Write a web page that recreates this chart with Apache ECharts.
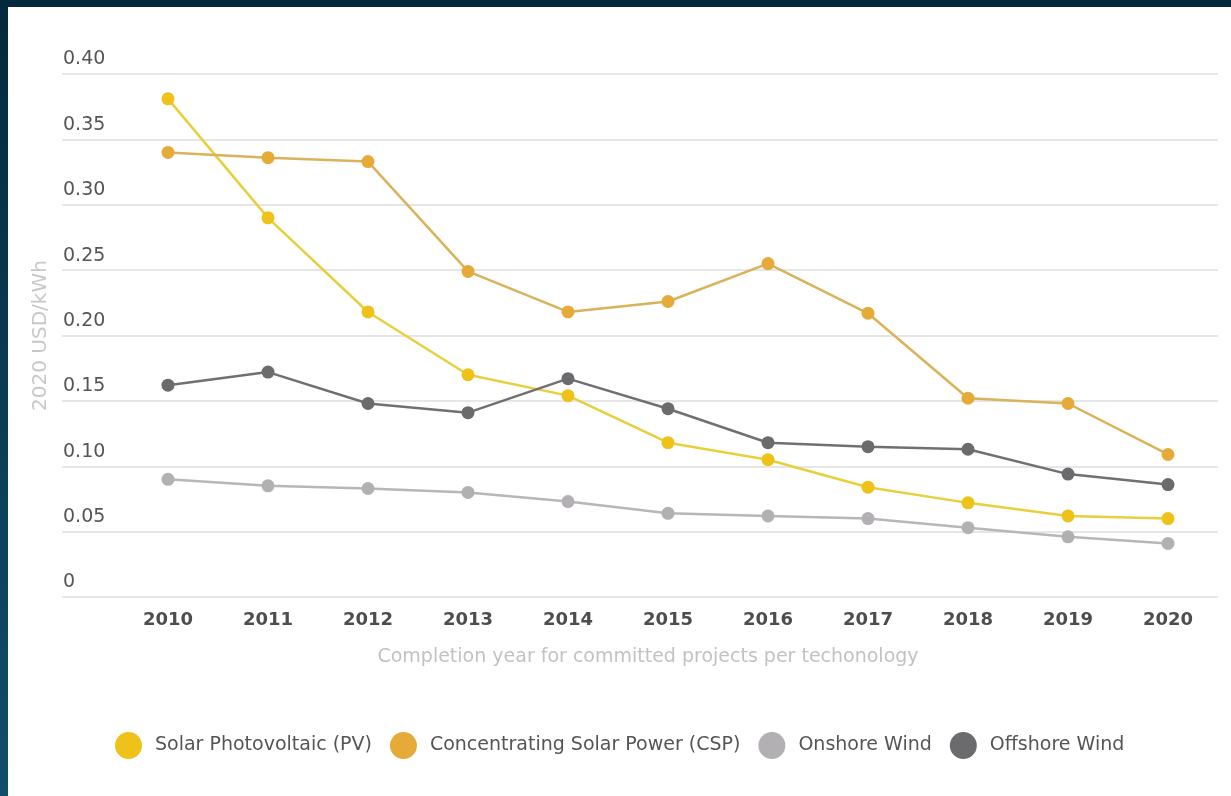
<!DOCTYPE html>
<html>
<head>
<meta charset="utf-8">
<script src="https://cdn.jsdelivr.net/npm/echarts@6/dist/echarts.min.js"></script>
<style>
  html, body { margin: 0; padding: 0; }
  #chart { width: 1231px; height: 796px; }
</style>
</head>
<body>
<div id="chart"></div>
<script>
// Datos
const years = ['2010', '2011', '2012', '2013', '2014', '2015', '2016', '2017', '2018', '2019', '2020'];
const solarPV = [0.381, 0.290, 0.218, 0.170, 0.154, 0.118, 0.105, 0.084, 0.072, 0.062, 0.060];
const csp = [0.340, 0.336, 0.333, 0.249, 0.218, 0.226, 0.255, 0.217, 0.152, 0.148, 0.109];
const onshoreWind = [0.090, 0.085, 0.083, 0.080, 0.073, 0.064, 0.062, 0.060, 0.053, 0.046, 0.041];
const offshoreWind = [0.162, 0.172, 0.148, 0.141, 0.167, 0.144, 0.118, 0.115, 0.113, 0.094, 0.086];
const seriesNames = ['Solar Photovoltaic (PV)', 'Concentrating Solar Power (CSP)', 'Onshore Wind', 'Offshore Wind'];

const FONT = 'DejaVu Sans';
const chart = echarts.init(document.getElementById('chart'));

function buildSeries(name, data, markerColor, lineColor) {
    return {
        name: name,
        type: 'line',
        xAxisIndex: 1,
        yAxisIndex: 1,
        data: data,
        symbol: 'circle',
        symbolSize: 13,
        showSymbol: true,
        itemStyle: { color: markerColor },
        lineStyle: { color: lineColor, width: 2.5 }
    };
}

const option = {
    backgroundColor: {
        type: 'linear', x: 0, y: 0, x2: 0, y2: 1,
        colorStops: [
            { offset: 0, color: '#032a3c' },
            { offset: 1, color: '#104e6a' }
        ]
    },
    graphic: [{
        type: 'rect',
        z: -10,
        shape: { x: 8, y: 7, width: 1223, height: 789 },
        style: { fill: '#ffffff' }
    }],
    legend: {
        data: seriesNames.map(n => ({ name: n, icon: 'circle' })),
        left: 110,
        top: 727,
        itemWidth: 27,
        itemHeight: 27,
        itemGap: 18,
        textStyle: { fontFamily: FONT, fontSize: 19, color: '#555', padding: [0, 0, 0, 8] }
    },
    grid: [
        { left: 62, right: 13, top: 74, bottom: 199 },
        { left: 118, right: 13, top: 74, bottom: 199 }
    ],
    xAxis: [
        { gridIndex: 0, type: 'category', data: years, show: false },
        {
            gridIndex: 1,
            type: 'category',
            data: years,
            axisLine: { show: false },
            axisTick: { show: false },
            axisLabel: { fontFamily: FONT, fontSize: 18, fontWeight: 'bold', color: '#4d4d4d', margin: 14 },
            name: 'Completion year for committed projects per techonology',
            nameLocation: 'middle',
            nameGap: 51,
            nameTextStyle: { fontFamily: FONT, fontSize: 19, color: '#c2c2c2', padding: [0, 40, 0, 0] }
        }
    ],
    yAxis: [
        {
            gridIndex: 0,
            type: 'value',
            min: 0,
            max: 0.4,
            interval: 0.05,
            axisLine: { show: false },
            axisTick: { show: false },
            splitLine: { lineStyle: { color: '#e6e6e6', width: 2 } },
            axisLabel: {
                inside: true,
                margin: 1,
                verticalAlign: 'bottom',
                padding: [0, 0, 5, 0],
                fontFamily: FONT,
                fontSize: 19,
                color: '#555',
                formatter: v => v === 0 ? '0' : v.toFixed(2)
            },
            name: '2020 USD/kWh',
            nameLocation: 'middle',
            nameGap: 11,
            nameRotate: 90,
            nameTextStyle: { fontFamily: FONT, fontSize: 20, color: '#c8c8c8' }
        },
        {
            gridIndex: 1,
            type: 'value',
            min: 0,
            max: 0.4,
            interval: 0.05,
            show: false
        }
    ],
    series: [
        buildSeries(seriesNames[0], solarPV, '#efc21a', '#e8cf3c'),
        buildSeries(seriesNames[1], csp, '#e6aa38', '#d9b25a'),
        buildSeries(seriesNames[2], onshoreWind, '#b3b0b3', '#b8b6b8'),
        buildSeries(seriesNames[3], offshoreWind, '#6b6b6e', '#707072')
    ]
};

chart.setOption(option);
</script>
</body>
</html>
